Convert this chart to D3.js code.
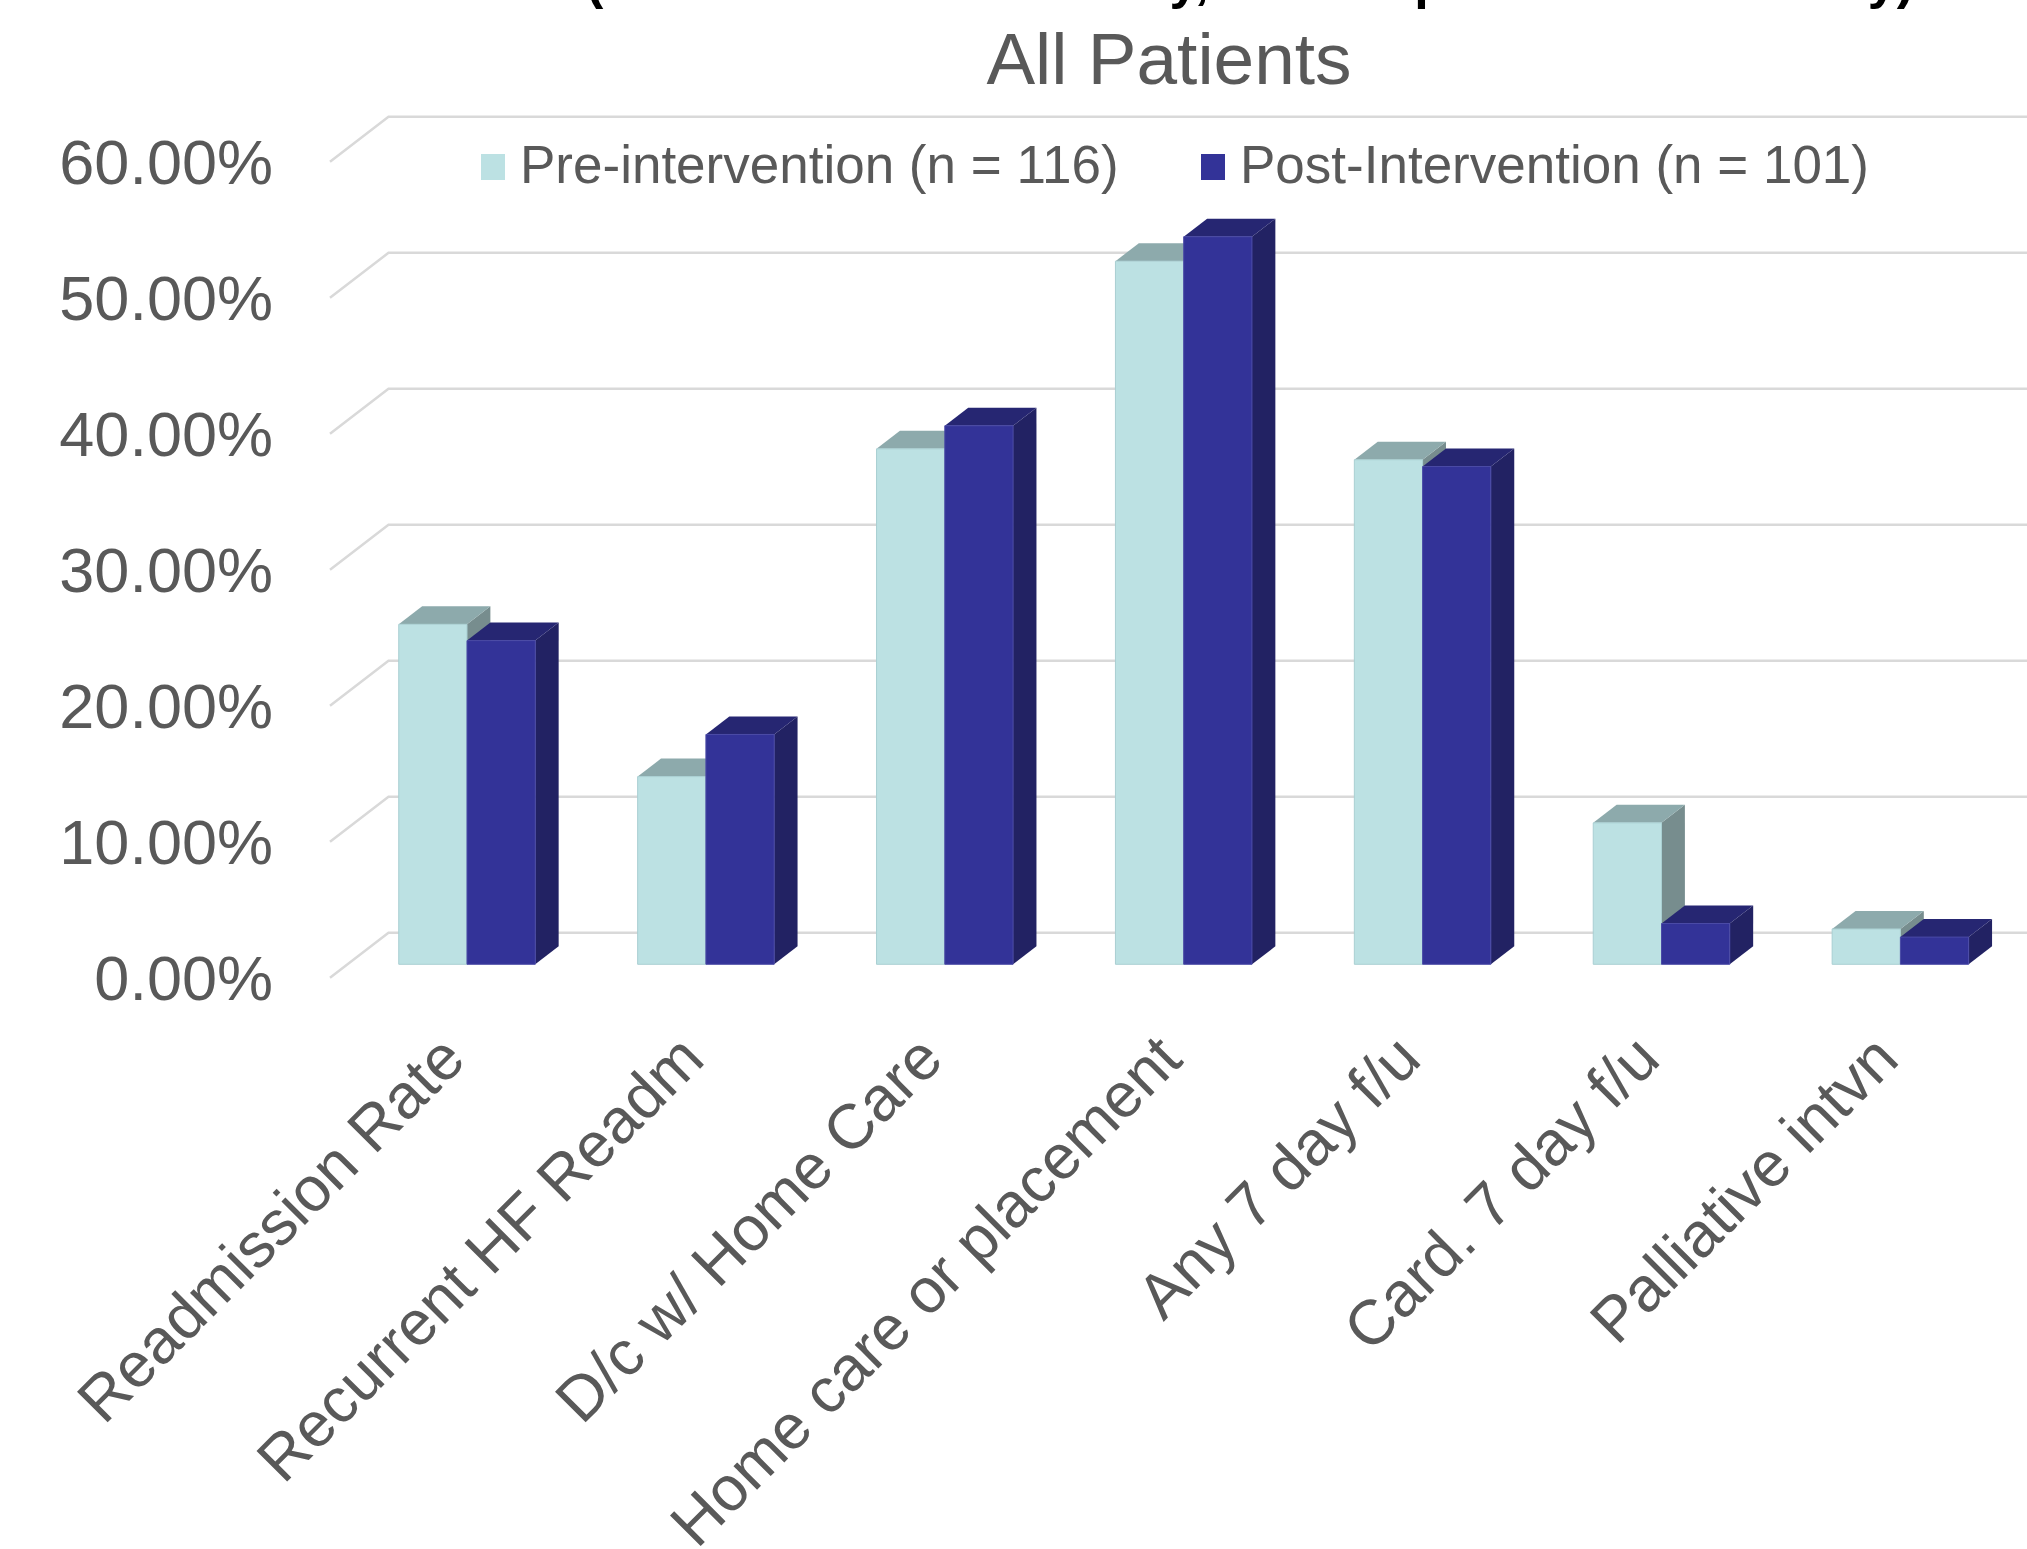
<!DOCTYPE html>
<html>
<head>
<meta charset="utf-8">
<script src="https://cdn.jsdelivr.net/npm/d3@7"></script>
<style>
  html, body { margin: 0; padding: 0; background: #fff; overflow: hidden; }
  text { font-family: "Liberation Sans", Arial, sans-serif; }
</style>
</head>
<body>
<svg id="chart" width="2027" height="1549"></svg>
<script>
// ---- data ----
const categories = [
  "Readmission Rate",
  "Recurrent HF Readm",
  "D/c w/ Home Care",
  "Home care or placement",
  "Any 7 day f/u",
  "Card. 7 day f/u",
  "Palliative intvn"
];
const seriesNames = ["Pre-intervention (n = 116)", "Post-Intervention (n = 101)"];
const preValues  = [0.250, 0.138, 0.379, 0.517, 0.371, 0.104, 0.026];
const postValues = [0.238, 0.169, 0.396, 0.535, 0.366, 0.030, 0.020];
const yTicks = [0, 0.1, 0.2, 0.3, 0.4, 0.5, 0.6];
const titleText = "Outcomes (Historical Control Study, Post-Implementation Study)";
const subtitleText = "All Patients";

// ---- styling ----
const seriesFaces = [
  { front: "#BCE1E3", top: "#8DAAAC", side: "#778D8E", edge: "#A9CFD2" },
  { front: "#333398", top: "#262672", side: "#222263", edge: "#4A4AA6" }
];
const textColor = "#595959";
const gridColor = "#D9D9D9";

const svg = d3.select("#chart");
svg.append("rect").attr("width", 2027).attr("height", 1549).attr("fill", "#fff");

// ---- oblique 3-D projection ----
// u: distance along the category axis, v: value, d: depth (0 = floor front, 1 = back wall)
const floorX0 = 330, floorY0 = 977.8;
const depthX = 58.5, depthY = -45;
const barD0 = 0.3, barD1 = 0.7;
const axisLength = 1672.3;

const y = d3.scaleLinear().domain([0, 0.6]).range([0, 816]);
const x = d3.scaleBand().domain(categories).range([0, axisLength])
  .paddingInner(1.5 / 3.5).paddingOuter(0.75 / 3.5);
const xs = d3.scaleBand().domain([0, 1]).range([0, x.bandwidth()]);

function P(u, v, d) {
  return [floorX0 + u + d * depthX, floorY0 - y(v) + d * depthY];
}
const poly = pts => "M" + pts.map(p => p.join(",")).join("L") + "Z";

// ---- gridlines on the back wall and side wall ----
svg.append("g").selectAll("path").data(yTicks).join("path")
  .attr("d", t => {
    const a = P(0, t, 0), b = P(0, t, 1), c = P(axisLength, t, 1);
    return `M${a}L${b}L${c}`;
  })
  .attr("fill", "none")
  .attr("stroke", gridColor)
  .attr("stroke-width", 2.5);

// ---- value axis labels ----
svg.append("g").selectAll("text").data(yTicks).join("text")
  .attr("x", 273)
  .attr("y", t => P(0, t, 0)[1])
  .attr("dy", "0.35em")
  .attr("text-anchor", "end")
  .attr("font-size", 63)
  .attr("fill", textColor)
  .text(d3.format(".2%"));

// ---- bars ----
const bars = [];
categories.forEach((c, i) => {
  [preValues[i], postValues[i]].forEach((v, s) => bars.push({ c, s, v }));
});

const barG = svg.append("g").selectAll("g").data(bars).join("g");
barG.each(function (b) {
  const g = d3.select(this);
  const u0 = x(b.c) + xs(b.s), u1 = u0 + xs.bandwidth();
  const f = seriesFaces[b.s];
  g.append("path")
    .attr("d", poly([P(u1, 0, barD0), P(u1, 0, barD1), P(u1, b.v, barD1), P(u1, b.v, barD0)]))
    .attr("fill", f.side);
  g.append("path")
    .attr("d", poly([P(u0, b.v, barD0), P(u1, b.v, barD0), P(u1, b.v, barD1), P(u0, b.v, barD1)]))
    .attr("fill", f.top);
  g.append("path")
    .attr("d", poly([P(u0, 0, barD0), P(u1, 0, barD0), P(u1, b.v, barD0), P(u0, b.v, barD0)]))
    .attr("fill", f.front)
    .attr("stroke", f.edge)
    .attr("stroke-width", 1);
});

// ---- category labels ----
svg.append("g").selectAll("text").data(categories).join("text")
  .attr("transform", c => {
    const cx = P(x(c) + x.bandwidth() / 2, 0, barD0)[0];
    return `translate(${cx + 1},1062) rotate(-45)`;
  })
  .attr("text-anchor", "end")
  .attr("font-size", 63)
  .attr("fill", textColor)
  .text(c => c);

// ---- legend ----
const legendX = [481, 1201];
const legend = svg.append("g").selectAll("g").data(seriesNames).join("g");
legend.append("rect")
  .attr("x", (d, i) => legendX[i])
  .attr("y", 154)
  .attr("width", 24)
  .attr("height", 26)
  .attr("fill", (d, i) => seriesFaces[i].front);
legend.append("text")
  .attr("x", (d, i) => legendX[i] + 39)
  .attr("y", 183)
  .attr("font-size", 53)
  .attr("fill", textColor)
  .text(d => d);

// ---- titles ----
const title = svg.append("text")
  .attr("y", -2)
  .attr("font-size", 52)
  .attr("font-weight", "bold")
  .attr("fill", "#000")
  .text(titleText);
const lead = title.node().getSubStringLength(0, titleText.indexOf("("));
title.attr("x", 586 - lead);

svg.append("text")
  .attr("x", 1169)
  .attr("y", 84)
  .attr("text-anchor", "middle")
  .attr("font-size", 73)
  .attr("fill", textColor)
  .text(subtitleText);
</script>
</body>
</html>
